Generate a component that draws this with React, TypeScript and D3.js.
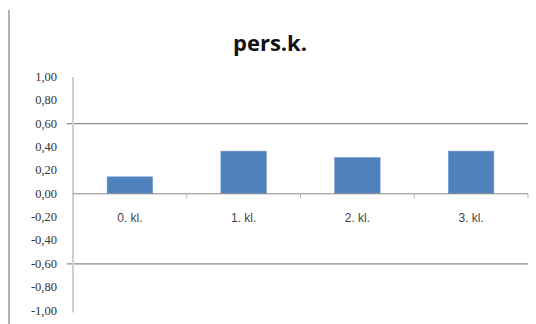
import React from "react";
import * as d3 from "d3";

const categories = ["0. kl.", "1. kl.", "2. kl.", "3. kl."];
const values = [0.145, 0.365, 0.31, 0.365];
const yTicks = [1.0, 0.8, 0.6, 0.4, 0.2, 0.0, -0.2, -0.4, -0.6, -0.8, -1.0];
const gridValues = [0.6, -0.6];
const title = "pers.k.";

export default function App() {
  const W = 536, H = 324;
  const x0 = 73, x1 = 528;
  const y = d3.scaleLinear().domain([-1, 1]).range([310.5, 77]);
  const x = d3.scaleBand<string>().domain(categories).range([x0, x1]).paddingInner(0.6).paddingOuter(0.3);
  const step = (x1 - x0) / categories.length;
  const fmt = (v: number) => v.toFixed(2).replace(".", ",");
  return (
    <svg width={W} height={H} style={{ position: "absolute", left: 0, top: 0 }}>
      <rect x={0} y={0} width={W} height={H} fill="#fff" />
      <line x1={9} x2={9} y1={10} y2={H} stroke="#9a9a9a" strokeWidth={1.5} />
      <text x={270} y={51} textAnchor="middle" fontFamily="'Open Sans', 'Liberation Sans', sans-serif" fontWeight="bold" fontSize={22} fill="#111">{title}</text>
      {gridValues.map((g) => (
        <line key={g} x1={67} x2={x1} y1={y(g)} y2={y(g)} stroke="#8c8c8c" strokeWidth={1.2} />
      ))}
      <line x1={73} x2={73} y1={y(1)} y2={y(-1) + 2} stroke="#d0d0d0" strokeWidth={2} />
      {yTicks.map((t) => (
        <text key={t} x={57} y={y(t) + 4} textAnchor="end" fontFamily="'Liberation Serif', 'DejaVu Serif', serif" fontSize={12.5} fill="#333">{fmt(t)}</text>
      ))}
      {categories.map((c, i) => (
        <rect key={c} x={x(c)!} y={y(Math.max(0, values[i]))} width={x.bandwidth()} height={Math.abs(y(values[i]) - y(0))} fill="#4F81BD" stroke="#6f9ad0" strokeWidth={0.6} />
      ))}
      <line x1={x0} x2={x1} y1={y(0)} y2={y(0)} stroke="#8c8c8c" strokeWidth={1.2} />
      {categories.map((c, i) => (
        <line key={"t" + c} x1={x0 + step * (i + 1)} x2={x0 + step * (i + 1)} y1={y(0)} y2={y(0) + 5} stroke="#bbb" strokeWidth={1} />
      ))}
      {categories.map((c) => (
        <text key={"l" + c} x={x(c)! + x.bandwidth() / 2} y={222} textAnchor="middle" fontFamily="'Liberation Sans', sans-serif" fontSize={12} fill="#444">{c}</text>
      ))}
    </svg>
  );
}
